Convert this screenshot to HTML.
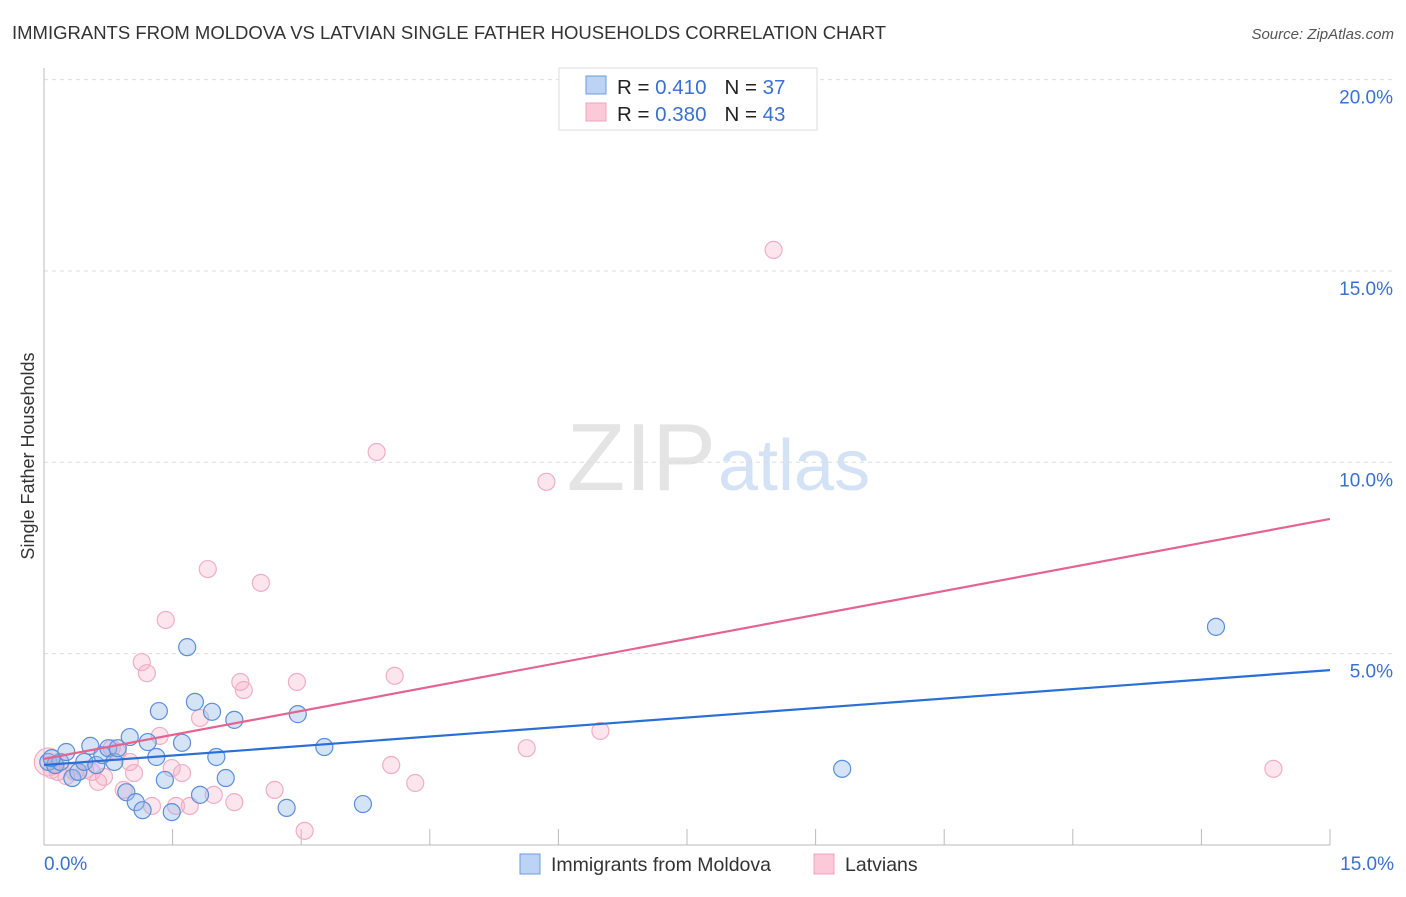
<!DOCTYPE html>
<html><head><meta charset="utf-8"><style>
body{margin:0;background:#fff;font-family:"Liberation Sans",sans-serif;}
svg text{font-family:"Liberation Sans",sans-serif;}
</style></head><body>
<svg id="chart" width="1406" height="892" xmlns="http://www.w3.org/2000/svg">
<text x="12" y="39" font-size="18.5" fill="#333">IMMIGRANTS FROM MOLDOVA VS LATVIAN SINGLE FATHER HOUSEHOLDS CORRELATION CHART</text>
<text x="1394" y="39" font-size="15" fill="#555" font-style="italic" text-anchor="end">Source: ZipAtlas.com</text>
<text x="716" y="490" font-size="96" fill="#e4e4e4" text-anchor="end" font-family="Liberation Serif">ZIP</text>
<text x="718" y="490" font-size="72" fill="#d4e2f6">atlas</text>
<g id="grid"></g>
<g id="axes"></g>
<g id="dots"></g>
<g id="lines"></g>
<text transform="translate(34,456) rotate(-90)" font-size="18" fill="#333" text-anchor="middle">Single Father Households</text>
<text x="44" y="870" font-size="19" fill="#3a70d0">0.0%</text>
<text x="1394" y="870" font-size="19" fill="#3a70d0" text-anchor="end">15.0%</text>
<g>
<rect x="559" y="68" width="258" height="62" fill="#fff" stroke="#ddd"/>
<rect x="586" y="76" width="20" height="18" fill="#bcd3f5" stroke="#6d9be0"/>
<rect x="586" y="103" width="20" height="18" fill="#fbc9d8" stroke="#eda5bd"/>
<text x="617" y="94" font-size="20.5" fill="#222">R = <tspan fill="#3a70d0">0.410</tspan><tspan dx="18">N = </tspan><tspan fill="#3a70d0">37</tspan></text>
<text x="617" y="121" font-size="20.5" fill="#222">R = <tspan fill="#3a70d0">0.380</tspan><tspan dx="18">N = </tspan><tspan fill="#3a70d0">43</tspan></text>
</g>
<g>
<rect x="520" y="854" width="20" height="20" fill="#bcd3f5" stroke="#6d9be0"/>
<text x="551" y="871" font-size="19.5" fill="#333">Immigrants from Moldova</text>
<rect x="814" y="854" width="20" height="20" fill="#fbc9d8" stroke="#eda5bd"/>
<text x="845" y="871" font-size="19.5" fill="#333">Latvians</text>
</g>
</svg>
<script>
const yTicks=[5,10,15,20];
const yTickLabels=["5.0%","10.0%","15.0%","20.0%"];
const xTicks=[1.5,3,4.5,6,7.5,9,10.5,12,13.5,15];
const moldovaX=[0.05,0.13,0.19,0.26,0.33,0.40,0.47,0.54,0.61,0.68,0.75,0.82,0.86,0.96,1.00,1.07,1.15,1.21,1.31,1.34,1.41,1.49,1.61,1.67,1.76,1.82,1.96,2.01,2.12,2.22,2.83,2.96,3.27,3.72,9.31,13.67,0.09];
const moldovaY=[2.17,2.09,2.17,2.43,1.75,1.91,2.17,2.59,2.09,2.35,2.53,2.17,2.53,1.38,2.82,1.12,0.91,2.69,2.30,3.50,1.70,0.86,2.67,5.17,3.74,1.31,3.48,2.30,1.75,3.27,0.97,3.42,2.56,1.07,1.99,5.70,2.27];
const latviaX=[0.05,0.09,0.16,0.26,0.36,0.48,0.56,0.63,0.70,0.79,0.86,0.93,1.00,1.05,1.14,1.20,1.26,1.35,1.42,1.49,1.54,1.61,1.70,1.82,1.91,1.98,2.22,2.29,2.33,2.53,2.69,2.95,3.04,3.88,4.05,4.09,4.33,5.63,5.86,6.49,8.51,14.34,0.14];
const latviaY=[2.17,1.96,1.91,1.80,1.91,1.96,1.91,1.65,1.78,2.53,2.43,1.44,2.17,1.88,4.78,4.49,1.02,2.85,5.88,2.01,1.02,1.88,1.02,3.32,7.21,1.31,1.12,4.26,4.05,6.85,1.44,4.26,0.37,10.27,2.09,4.42,1.62,2.53,9.49,2.98,15.55,1.99,2.09];
const moldovaTrend=[2.09,4.57];
const latviaTrend=[2.25,8.52];
const NS="http://www.w3.org/2000/svg";
const X0=44,X1=1330,Y0=845,PPY=38.27;
const sx=v=>X0+(X1-X0)*v/15;
const sy=v=>Y0-v*PPY;
function mk(t,a,p){const e=document.createElementNS(NS,t);for(const k in a)e.setAttribute(k,a[k]);p.appendChild(e);return e;}
const grid=document.getElementById('grid'),axes=document.getElementById('axes'),dots=document.getElementById('dots'),lines=document.getElementById('lines');
yTicks.forEach((v,i)=>{
 const l=mk('line',{x1:X0,x2:1394,y1:sy(v),y2:sy(v),stroke:'#ddd','stroke-dasharray':'4,4'},grid);
 
 
 const t=mk('text',{x:1393,y:sy(v)+24,'font-size':19,fill:'#3a70d0','text-anchor':'end'},grid);
 t.textContent=yTickLabels[i];
 
 
});
const ya=mk('line',{x1:X0,x2:X0,y1:68,y2:Y0,stroke:'#bbb'},axes);


const xa=mk('line',{x1:X0,x2:X1,y1:Y0,y2:Y0,stroke:'#bbb'},axes);


xTicks.forEach(v=>{
 const t=mk('line',{x1:sx(v),x2:sx(v),y1:Y0-16,y2:Y0,stroke:'#bbb'},axes);
 
 
});
latviaX.forEach((x,i)=>{
 const c=mk('circle',{cx:sx(x),cy:sy(latviaY[i]),r:i===0?14:8.5,fill:'rgba(246,170,196,0.3)',stroke:'#f0aec4','stroke-width':1.2},dots);
 
 
});
moldovaX.forEach((x,i)=>{
 const c=mk('circle',{cx:sx(x),cy:sy(moldovaY[i]),r:8.5,fill:'rgba(150,185,235,0.4)',stroke:'#5a8fd8','stroke-width':1.2},dots);
 
 
});
const lp=mk('line',{x1:sx(0),y1:sy(latviaTrend[0]),x2:sx(15),y2:sy(latviaTrend[1]),stroke:'#e4648f','stroke-width':2.2},lines);


const lb=mk('line',{x1:sx(0),y1:sy(moldovaTrend[0]),x2:sx(15),y2:sy(moldovaTrend[1]),stroke:'#2a6fd6','stroke-width':2.2},lines);


</script>
</body></html>
